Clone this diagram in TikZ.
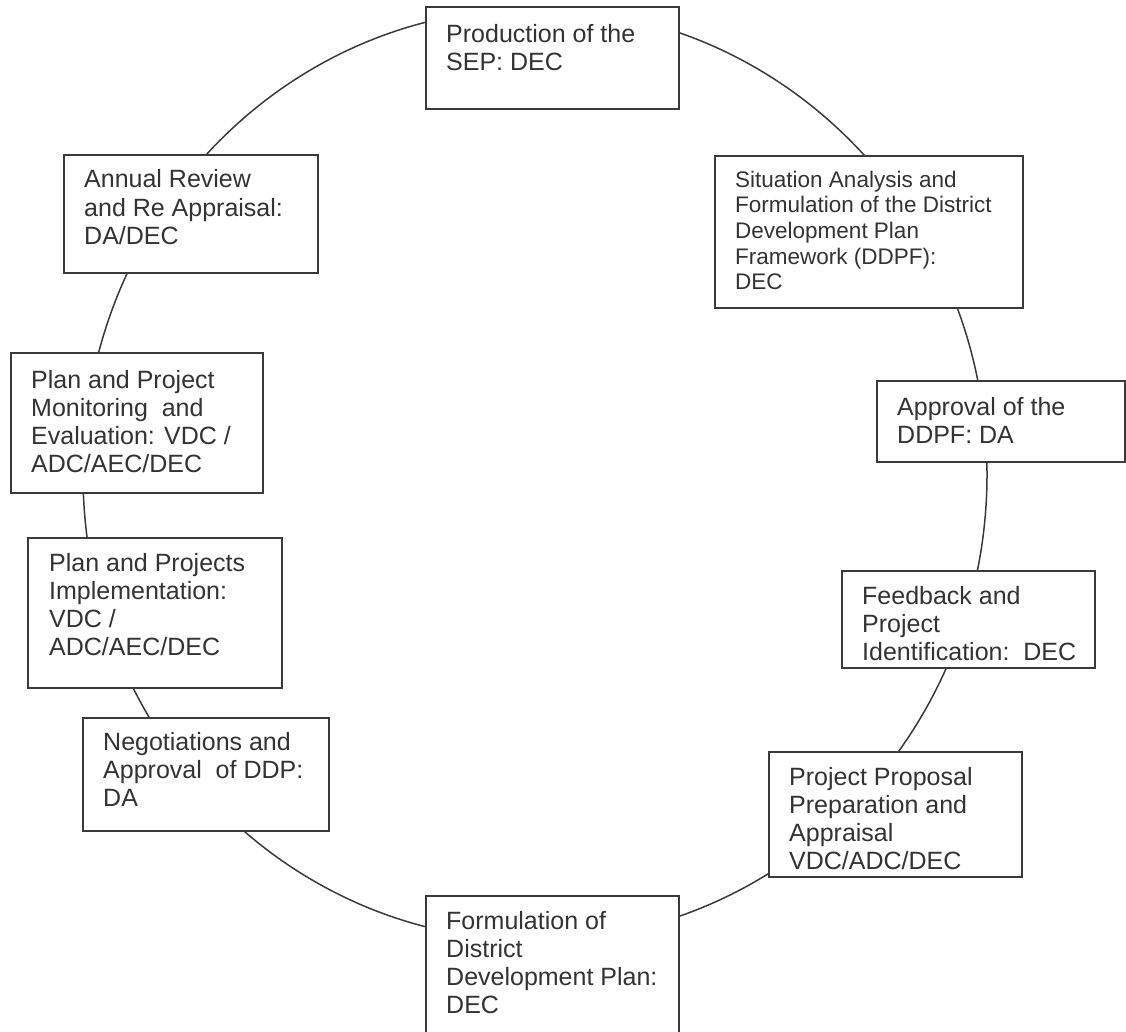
\documentclass[tikz,border=0pt]{standalone}
\usepackage{fontspec}
\setmainfont{Liberation Sans}
\usetikzlibrary{positioning}
\definecolor{ink}{HTML}{333333}
\definecolor{linec}{HTML}{3A3A3A}
\tikzset{
  boxst/.style={draw=linec, line width=2pt, fill=white, inner sep=0pt, outer sep=0pt, anchor=north west},
  txt/.style={text=ink, align=left, inner sep=0pt, anchor=base west, font=\fontsize{25}{28}\selectfont},
  smalltxt/.style={txt, font=\fontsize{22.5}{25.7}\selectfont},
  ring/.style={draw=linec, line width=1.5pt}
}
\begin{document}
\begin{tikzpicture}[x=1pt,y=-1pt]
\useasboundingbox (0,0) rectangle (1126,1032);
\begin{scope}
\clip (0,0) rectangle (1126,1032);
% cycle ring
\draw[ring] (535,474.5) ellipse [x radius=452, y radius=466];
% boxes
\node[boxst, minimum width=253, minimum height=102] (b1) at (426,7) {};
\node[boxst, minimum width=308, minimum height=152] (b2) at (715,156) {};
\node[boxst, minimum width=248, minimum height=81] (b3) at (877,381) {};
\node[boxst, minimum width=253, minimum height=97] (b4) at (842,571) {};
\node[boxst, minimum width=253, minimum height=125] (b5) at (769,752) {};
\node[boxst, minimum width=253, minimum height=140] (b6) at (426,896) {};
\node[boxst, minimum width=246, minimum height=113] (b7) at (83,718) {};
\node[boxst, minimum width=254, minimum height=150] (b8) at (28,538) {};
\node[boxst, minimum width=252, minimum height=140] (b9) at (11,353) {};
\node[boxst, minimum width=254, minimum height=118] (b10) at (64,155) {};
\end{scope}
% texts (anchored at the baseline of the last line)
\node[txt] (t1) at (446,71) {Production of the\\SEP: DEC};
\node[smalltxt] (t2) at (735,289.8) {Situation Analysis and\\Formulation of the District\\Development Plan\\Framework (DDPF):\\DEC};
\node[txt] (t3) at (897,443) {Approval of the\\DDPF: DA};
\node[txt] (t4) at (862,660) {Feedback and\\Project\\Identification:\ \ DEC};
\node[txt] (t5) at (789,869) {Project Proposal\\Preparation and\\Appraisal\\VDC/ADC/DEC};
\node[txt] (t6) at (446,1013) {Formulation of\\District\\Development Plan:\\DEC};
\node[txt] (t7) at (103,806) {Negotiations and\\Approval\ \ of DDP:\\DA};
\node[txt] (t8) at (49,655) {Plan and Projects\\Implementation:\\VDC /\\ADC/AEC/DEC};
\node[txt] (t9) at (31,472) {Plan and Project\\Monitoring\ \ and\\Evaluation: VDC /\\ADC/AEC/DEC};
\node[txt] (t10) at (84,244) {Annual Review\\and Re Appraisal:\\DA/DEC};
\end{tikzpicture}
\end{document}
